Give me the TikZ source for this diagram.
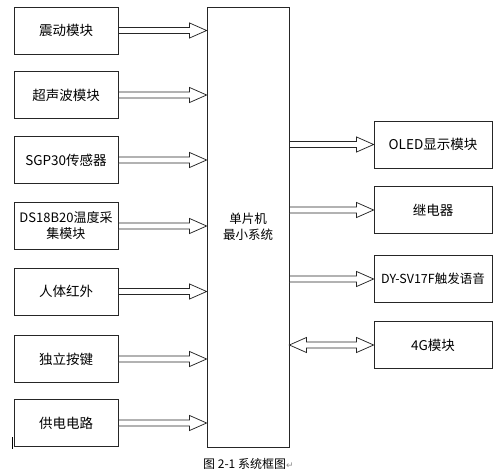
\documentclass[tikz,border=0pt]{standalone}
\usepackage{fontspec}
\setmainfont{Noto Sans CJK SC}
\newfontfamily\symfont{DejaVu Sans}
\usetikzlibrary{calc}
\tikzset{
  blk/.style={draw=black!85, line width=0.8pt, minimum width=104pt, minimum height=47pt, inner sep=0pt, align=center, font=\fontsize{13.5}{16}\selectfont},
  rblk/.style={blk, minimum width=118pt},
  cblk/.style={blk, minimum width=82pt, minimum height=440pt, font=\fontsize{12.5}{16}\selectfont},
  harr/.style={draw=black!85, line width=0.75pt, fill=white, line join=miter},
  captxt/.style={font=\fontsize{12}{14}\selectfont, inner sep=0pt, anchor=west}
}
\newcommand\harrow[2]{%
  \path[harr] let \p1=#1, \p2=#2 in
    (\x1,{\y1+3pt}) -- ({\x2-17pt},{\y1+3pt}) -- ({\x2-17pt},{\y1+7.5pt}) -- (\x2,\y1)
    -- ({\x2-17pt},{\y1-7.5pt}) -- ({\x2-17pt},{\y1-3pt}) -- (\x1,{\y1-3pt}) -- cycle;}
\newcommand\hdarrow[2]{%
  \path[harr] let \p1=#1, \p2=#2 in
    (\x1,\y1) -- ({\x1+17pt},{\y1+7.5pt}) -- ({\x1+17pt},{\y1+3pt}) -- ({\x2-17pt},{\y1+3pt}) -- ({\x2-17pt},{\y1+7.5pt}) -- (\x2,\y1)
    -- ({\x2-17pt},{\y1-7.5pt}) -- ({\x2-17pt},{\y1-3pt}) -- ({\x1+17pt},{\y1-3pt}) -- ({\x1+17pt},{\y1-7.5pt}) -- cycle;}
\begin{document}
\begin{tikzpicture}[x=1pt,y=-1pt]
\useasboundingbox[fill=white] (0,0) rectangle (495,474);
\node[blk] (l1) at (66,30.5) {震动模块};
\node[blk] (l2) at (66,95) {超声波模块};
\node[blk] (l3) at (66,160) {SGP30传感器};
\node[blk, font=\fontsize{13}{16}\selectfont] (l4) at (66,226) {DS18B20温度采\\集模块};
\node[blk] (l5) at (66,291.5) {人体红外};
\node[blk] (l6) at (66,359) {独立按键};
\node[blk] (l7) at (66,423) {供电电路};
\node[cblk] (c) at (248,227) {单片机\\最小系统};
\node[rblk] (r1) at (433,144.5) {OLED显示模块};
\node[rblk] (r2) at (433,210) {继电器};
\node[rblk, font=\fontsize{12.5}{16}\selectfont] (r3) at (433,279) {DY-SV17F触发语音};
\node[rblk] (r4) at (433,345) {4G模块};
\foreach \i in {1,...,7} {\harrow{(l\i.east)}{(c.west |- l\i.east)}}
\foreach \i in {1,2,3} {\harrow{(c.east |- r\i.west)}{(r\i.west)}}
\hdarrow{(c.east |- r4.west)}{(r4.west)}
\coordinate (m1) at (12,437);
\coordinate (m2) at (12,449);
\draw[line width=0.8pt] (m1) -- (m2);
\node[captxt] (caption) at (203,464) {图 2-1 系统框图{\color{black!45}\symfont\fontsize{9}{10}\selectfont ↵}};
\end{tikzpicture}
\end{document}
